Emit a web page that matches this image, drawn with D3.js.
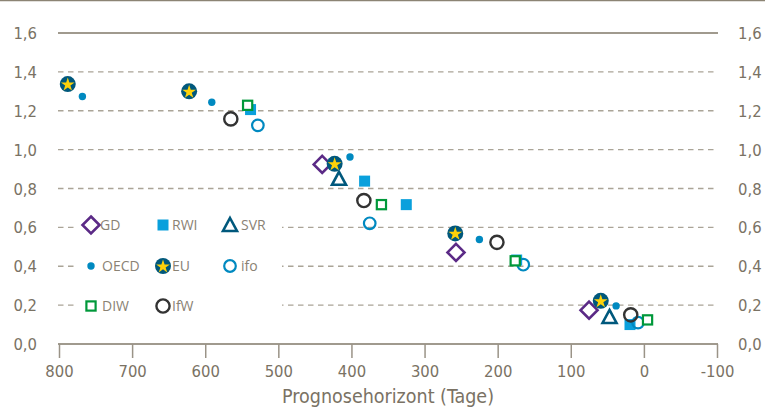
<!DOCTYPE html>
<html>
<head>
<meta charset="utf-8">
<script src="https://cdn.jsdelivr.net/npm/d3@7"></script>
<style>
  body { margin: 0; background: #fff; }
  svg { display: block; }
  .tick-lbl { font-family: "DejaVu Sans", sans-serif; font-stretch: condensed; font-size: 16.5px; fill: #7a7264; }
  .leg-lbl { font-family: "Open Sans", sans-serif; font-size: 14px; fill: #8a8274; }
</style>
</head>
<body>
<svg id="chart"></svg>
<script>
// Forecast horizon (days) and forecast error per institution
const gdDays = [440, 257, 75];
const gdVals = [0.924, 0.471, 0.174];
const rwiDays = [538, 382, 325, 174, 19];
const rwiVals = [1.206, 0.838, 0.717, 0.432, 0.10];
const svrDays = [417, 47];
const svrVals = [0.85, 0.139];
const oecdDays = [768, 591, 402, 225, 38];
const oecdVals = [1.273, 1.244, 0.962, 0.538, 0.196];
const euDays = [788, 622, 423, 258, 59];
const euVals = [1.337, 1.30, 0.927, 0.569, 0.222];
const ifoDays = [528, 375, 165, 8];
const ifoVals = [1.125, 0.621, 0.408, 0.11];
const diwDays = [542, 359, 176, -5];
const diwVals = [1.228, 0.717, 0.428, 0.124];
const ifwDays = [565, 383, 201, 18];
const ifwVals = [1.158, 0.738, 0.523, 0.15];

const xTicks = [800, 700, 600, 500, 400, 300, 200, 100, 0, -100];
const yTicks = [0, 0.2, 0.4, 0.6, 0.8, 1.0, 1.2, 1.4, 1.6];
const xTitle = "Prognosehorizont (Tage)";

const width = 765, height = 410;
const svg = d3.select("#chart").attr("width", width).attr("height", height);

const x = d3.scaleLinear().domain([800, -100]).range([59, 717]);
const y = d3.scaleLinear().domain([0, 1.6]).range([344, 33]);
const fmt = v => d3.format(".1f")(v).replace(".", ",");

const axisCol = "#9a9387";

// top border
svg.append("line").attr("x1", 0).attr("x2", width).attr("y1", 0.5).attr("y2", 0.5)
  .attr("stroke", "#8c8474").attr("stroke-width", 1.5);

// grid lines
yTicks.forEach(v => {
  const solid = v === 0 || v === 1.6;
  svg.append("line")
    .attr("x1", 58).attr("x2", 718)
    .attr("y1", y(v)).attr("y2", y(v))
    .attr("stroke", solid ? "#a09a8e" : "#aaa497")
    .attr("stroke-width", solid ? 2 : 1.3)
    .attr("stroke-dasharray", solid ? null : "5.5,4.5");
  svg.append("text").attr("class", "tick-lbl")
    .attr("x", 37).attr("y", y(v) + 6).attr("text-anchor", "end").text(fmt(v));
  svg.append("text").attr("class", "tick-lbl")
    .attr("x", 738).attr("y", y(v) + 6).text(fmt(v));
});

// x axis ticks
const xAxis = svg.append("g").attr("transform", `translate(0,${y(0)})`)
  .call(d3.axisBottom(x).tickValues(xTicks).tickSize(14).tickPadding(7).tickFormat(d3.format("d")));
xAxis.select(".domain").remove();
xAxis.selectAll(".tick line").attr("stroke", axisCol).attr("stroke-width", 1.5);
xAxis.selectAll(".tick text").attr("class", "tick-lbl").attr("font-size", null).attr("font-family", null)
  .text(d => d < 0 ? "-" + Math.abs(d) : d);

svg.append("text").attr("class", "tick-lbl")
  .attr("x", x(350)).attr("y", 403).attr("text-anchor", "middle")
  .style("font-size", "19.5px").text(xTitle);

// legend background
svg.append("rect").attr("x", 77).attr("y", 208).attr("width", 205).attr("height", 112).attr("fill", "#fff");

// marker drawing helpers
const markers = {
  GD: (g) => g.append("path").attr("d", "M0,-8.5L8.5,0L0,8.5L-8.5,0Z")
    .attr("fill", "#fff").attr("stroke", "#5b2a86").attr("stroke-width", 2.6),
  RWI: (g) => g.append("rect").attr("x", -5.5).attr("y", -5.5).attr("width", 11).attr("height", 11)
    .attr("fill", "#0aa0dc"),
  SVR: (g) => g.append("path").attr("d", "M0,-7L7,6L-7,6Z")
    .attr("fill", "#fff").attr("stroke", "#00587c").attr("stroke-width", 2.6).attr("stroke-linejoin", "miter"),
  OECD: (g) => g.append("circle").attr("r", 3.7).attr("fill", "#0089c0"),
  EU: (g) => {
    g.append("circle").attr("r", 8).attr("fill", "#00587c");
    g.append("path").attr("d", d3.symbol(d3.symbolStar, 58)()).attr("fill", "#fdd20a")
      .attr("transform", "translate(0,0.6)");
  },
  ifo: (g) => g.append("circle").attr("r", 5.8)
    .attr("fill", "none").attr("stroke", "#0089c0").attr("stroke-width", 2.2),
  DIW: (g) => g.append("rect").attr("x", -4.6).attr("y", -4.6).attr("width", 9.2).attr("height", 9.2)
    .attr("fill", "#fff").attr("stroke", "#00983a").attr("stroke-width", 2.2),
  IfW: (g) => g.append("circle").attr("r", 6.6)
    .attr("fill", "none").attr("stroke", "#333333").attr("stroke-width", 2.4)
};

const series = [
  { name: "GD", days: gdDays, vals: gdVals },
  { name: "RWI", days: rwiDays, vals: rwiVals },
  { name: "SVR", days: svrDays, vals: svrVals },
  { name: "OECD", days: oecdDays, vals: oecdVals },
  { name: "EU", days: euDays, vals: euVals },
  { name: "ifo", days: ifoDays, vals: ifoVals },
  { name: "DIW", days: diwDays, vals: diwVals },
  { name: "IfW", days: ifwDays, vals: ifwVals }
];

// points
series.forEach(s => {
  s.days.forEach((d, i) => {
    const g = svg.append("g").attr("transform", `translate(${x(d)},${y(s.vals[i])})`);
    markers[s.name](g);
  });
});

// legend (3 columns, rows on grid lines 0.6 / 0.4 / 0.2)
const legCols = [91, 163, 230];
const legRows = [225, 266, 306];
series.forEach((s, i) => {
  const cx = legCols[i % 3], cy = legRows[Math.floor(i / 3)];
  const g = svg.append("g").attr("transform", `translate(${cx},${cy})`);
  markers[s.name](g);
  svg.append("text").attr("class", "leg-lbl")
    .attr("x", cx + (s.name === "OECD" || s.name === "DIW" || s.name === "SVR" || s.name === "ifo" ? 11 : 9))
    .attr("y", cy + 5).text(s.name);
});
</script>
</body>
</html>
